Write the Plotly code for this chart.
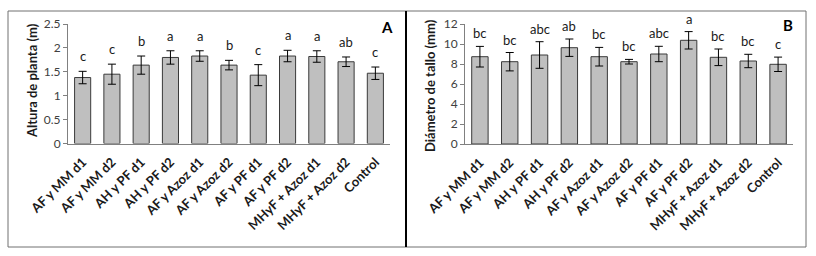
import plotly.graph_objects as go

categories = ["AF y MM d1", "AF y MM d2", "AH y PF d1", "AH y PF d2", "AF y Azoz d1",
              "AF y Azoz d2", "AF y PF d1", "AF y PF d2", "MHyF + Azoz d1",
              "MHyF + Azoz d2", "Control"]

altura = [1.38, 1.45, 1.64, 1.80, 1.83, 1.64, 1.43, 1.83, 1.82, 1.71, 1.47]
altura_err = [0.13, 0.21, 0.19, 0.14, 0.11, 0.10, 0.22, 0.12, 0.12, 0.10, 0.13]
altura_letters = ["c", "c", "b", "a", "a", "b", "c", "a", "a", "ab", "c"]

diametro = [8.73, 8.23, 8.90, 9.63, 8.73, 8.23, 9.00, 10.37, 8.67, 8.30, 7.97]
diametro_err = [1.03, 0.92, 1.33, 0.87, 0.93, 0.23, 0.77, 0.87, 0.83, 0.67, 0.72]
diametro_letters = ["bc", "bc", "abc", "ab", "bc", "bc", "abc", "a", "bc", "bc", "c"]

W, H = 816, 256
FONT = "Lato"

def px_x(v):
    return v / W

def px_y(v):
    return 1 - v / H

fig = go.Figure()

bar_style = dict(marker=dict(color="#bfbfbf", line=dict(color="#3a3a3a", width=1)),
                 width=0.55, showlegend=False)

fig.add_trace(go.Bar(x=categories, y=altura, xaxis="x", yaxis="y",
                     error_y=dict(type="data", array=altura_err, color="black",
                                  thickness=1, width=4), **bar_style))
fig.add_trace(go.Bar(x=categories, y=diametro, xaxis="x2", yaxis="y2",
                     error_y=dict(type="data", array=diametro_err, color="black",
                                  thickness=1, width=4), **bar_style))

tickfont = dict(family=FONT, size=13, color="#1a1a1a", weight="bold")
ytickfont = dict(family=FONT, size=12, color="#404040")

common_x = dict(type="category", tickangle=-45, tickfont=tickfont, showline=True,
                linecolor="#808080", linewidth=1, ticks="", showgrid=False, zeroline=False,
                automargin=False, ticklabelstandoff=5)
common_y = dict(showline=True, linecolor="#808080", linewidth=1, ticks="outside",
                ticklen=4, tickcolor="#808080", showgrid=False, zeroline=False,
                tickfont=ytickfont, automargin=False)

fig.update_layout(
    width=W, height=H, margin=dict(l=0, r=0, t=0, b=0),
    paper_bgcolor="white", plot_bgcolor="white", bargap=0.45,
    xaxis=dict(domain=[px_x(68), px_x(390)], anchor="y", **common_x),
    yaxis=dict(domain=[px_y(143.5), px_y(24)], range=[0, 2.5], dtick=0.5,
               anchor="x", **common_y),
    xaxis2=dict(domain=[px_x(465), px_x(793)], anchor="y2", **common_x),
    yaxis2=dict(domain=[px_y(144), px_y(24)], range=[0, 12], dtick=2,
                anchor="x2", **common_y),
)

annotations = []
for c, v, e, l in zip(categories, altura, altura_err, altura_letters):
    annotations.append(dict(x=c, y=v + e, xref="x", yref="y", text=l, showarrow=False,
                            yanchor="middle", yshift=15,
                            font=dict(family=FONT, size=13, color="#1a1a1a")))
for c, v, e, l in zip(categories, diametro, diametro_err, diametro_letters):
    annotations.append(dict(x=c, y=v + e, xref="x2", yref="y2", text=l, showarrow=False,
                            yanchor="middle", yshift=13,
                            font=dict(family=FONT, size=13, color="#1a1a1a")))

annotations += [
    dict(x=px_x(32), y=px_y(81), xref="paper", yref="paper", text="Altura de planta (m)",
         textangle=-90, showarrow=False, xanchor="center", yanchor="middle",
         font=dict(family=FONT, size=13, color="#1a1a1a", weight="bold")),
    dict(x=px_x(430), y=px_y(86), xref="paper", yref="paper", text="Diámetro de tallo (mm)",
         textangle=-90, showarrow=False, xanchor="center", yanchor="middle",
         font=dict(family=FONT, size=13, color="#1a1a1a", weight="bold")),
    dict(x=px_x(387), y=px_y(27), xref="paper", yref="paper", text="A", showarrow=False,
         xanchor="center", yanchor="middle",
         font=dict(family=FONT, size=15, color="black", weight="bold")),
    dict(x=px_x(788), y=px_y(25), xref="paper", yref="paper", text="B", showarrow=False,
         xanchor="center", yanchor="middle",
         font=dict(family=FONT, size=15, color="black", weight="bold")),
]
fig.update_layout(annotations=annotations)

fig.update_layout(shapes=[
    dict(type="rect", xref="paper", yref="paper", x0=px_x(8), x1=px_x(806),
         y0=px_y(247), y1=px_y(11), line=dict(color="#707070", width=1)),
    dict(type="line", xref="paper", yref="paper", x0=px_x(406), x1=px_x(406),
         y0=px_y(247), y1=px_y(11), line=dict(color="black", width=2)),
])

fig.write_html("out.html", config={"displayModeBar": False},
               post_script="document.body.style.margin='0';document.body.style.overflow='hidden';")
